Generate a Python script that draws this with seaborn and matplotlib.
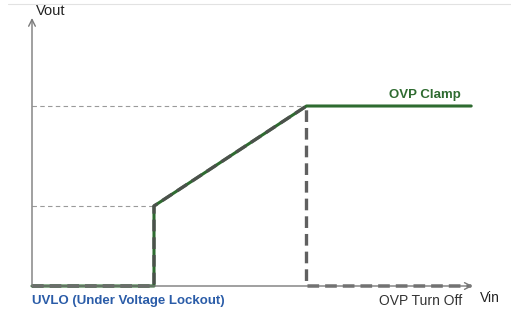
import matplotlib
matplotlib.use("Agg")
import matplotlib.pyplot as plt
import seaborn as sns
import pandas as pd

sns.set_theme(style="white")
plt.rcParams['font.family'] = ['Liberation Sans', 'DejaVu Sans']

# Transfer characteristic (Vin, Vout), arbitrary units
clamp_vin = [0, 4, 4, 9, 14.4]
clamp_vout = [0, 0, 4, 9, 9]
turnoff_vin = [0, 4, 4, 9, 9, 14.4]
turnoff_vout = [0, 0, 4, 9, 0, 0]
uvlo_level = 4
ovp_level = 9
uvlo_vin = 4
ovp_vin = 9

clamp_df = pd.DataFrame({"Vin": clamp_vin, "Vout": clamp_vout})
off_df = pd.DataFrame({"Vin": turnoff_vin, "Vout": turnoff_vout})

fig = plt.figure(figsize=(5.11, 3.13), dpi=100)
ax = fig.add_axes([0, 0, 1, 1])
ax.set_xlim(-32 / 30.5, (511 - 32) / 30.5)
ax.set_ylim(-27 / 20, 286 / 20)
ax.axis("off")

green = "#2e6b30"
grey = "#4f4f4f"

# faint guide lines
ax.plot([0, ovp_vin], [ovp_level, ovp_level], color="#9a9a9a", lw=0.8, dashes=(4, 3))
ax.plot([0, uvlo_vin], [uvlo_level, uvlo_level], color="#9a9a9a", lw=0.8, dashes=(4, 3))

# axes arrows
ax.annotate("", xy=(0, 13.4), xytext=(0, 0),
            arrowprops=dict(arrowstyle="->", color="#7a7a7a", lw=1.0, shrinkA=0, shrinkB=0))
ax.annotate("", xy=(14.45, 0), xytext=(0, 0),
            arrowprops=dict(arrowstyle="->", color="#7a7a7a", lw=1.0, shrinkA=0, shrinkB=0))

# top faint border line
ax.plot([-0.8, 15.7], [14.1, 14.1], color="#e2e2e2", lw=0.8)

sns.lineplot(data=clamp_df, x="Vin", y="Vout", sort=False, estimator=None,
             color=green, lw=2.2, ax=ax)
sns.lineplot(data=off_df, x="Vin", y="Vout", sort=False, estimator=None,
             color=grey, lw=2.4, ax=ax)
ax.lines[-1].set_dashes((3.5, 1.8))
ax.lines[-1].set_alpha(0.9)

ax.text(0.12, 13.75, "Vout", fontsize=10.5, color="#222222", ha="left", va="center")
ax.text(14.7, -0.6, "Vin", fontsize=10, color="#222222", ha="left", va="center")
ax.text(14.05, 9.55, "OVP Clamp", fontsize=9.5, fontweight="bold", color=green, ha="right", va="center")
ax.text(0.0, -0.75, "UVLO (Under Voltage Lockout)", fontsize=9.5, fontweight="bold",
        color="#2a5ca8", ha="left", va="center")
ax.text(14.12, -0.75, "OVP Turn Off", fontsize=10, color="#333333", ha="right", va="center")

fig.savefig("out.png", dpi=100)
